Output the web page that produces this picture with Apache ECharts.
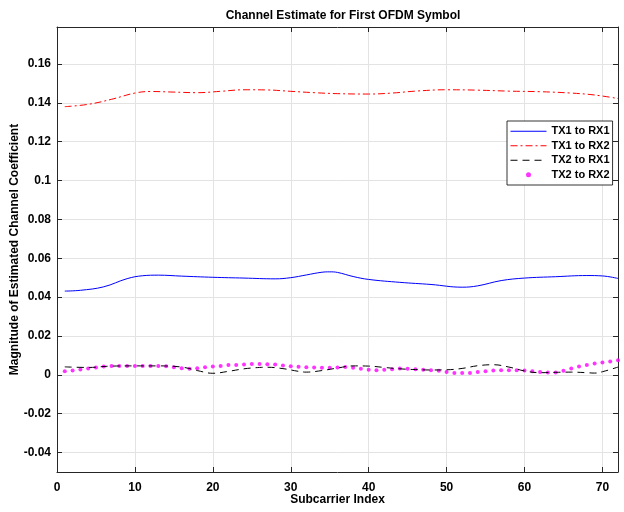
<!DOCTYPE html>
<html>
<head>
<meta charset="utf-8">
<script src="https://cdn.jsdelivr.net/npm/echarts@6/dist/echarts.min.js"></script>
<style>
  html, body { margin: 0; padding: 0; background: #fff; }
  #chart { width: 624px; height: 512px; }
</style>
</head>
<body>
<div id="chart"></div>
<script>
// values
var xTicks = [0, 10, 20, 30, 40, 50, 60, 70]
var yTicks = [-0.04, -0.02, 0, 0.02, 0.04, 0.06, 0.08, 0.1, 0.12, 0.14, 0.16]
var seriesNames = ['TX1 to RX1', 'TX1 to RX2', 'TX2 to RX1', 'TX2 to RX2']

// TX1 to RX1 (blue, solid)
var tx1rx1Idx = [1, 3, 6, 9, 11, 13, 16, 20, 24, 28, 30, 32, 34, 35, 36, 38, 40, 44, 48, 52, 54, 57, 60, 64, 68, 70, 72]
var tx1rx1Val = [0.0431, 0.0435, 0.0453, 0.0495, 0.0510, 0.0513, 0.0508, 0.0502, 0.0498, 0.0494, 0.0500, 0.0514, 0.0528, 0.0530, 0.0527, 0.0506, 0.0491, 0.0476, 0.0465, 0.0451, 0.0458, 0.0485, 0.0498, 0.0505, 0.0511, 0.0509, 0.0496]

// TX1 to RX2 (red, dash-dot)
var tx1rx2Idx = [1, 4, 7, 10, 12, 15, 18, 21, 24, 27, 30, 33, 36, 40, 43, 46, 50, 54, 58, 62, 66, 69, 72]
var tx1rx2Val = [0.1380, 0.1392, 0.1418, 0.1450, 0.1458, 0.1455, 0.1452, 0.1459, 0.1467, 0.1466, 0.1459, 0.1452, 0.1447, 0.1445, 0.1450, 0.1460, 0.1467, 0.1465, 0.1460, 0.1457, 0.1450, 0.1440, 0.1422]

// TX2 to RX1 (black, dashed)
var tx2rx1Idx = [1, 4, 7, 10, 13, 16, 18, 20, 22, 24, 26, 27, 29, 31, 32, 34, 36, 38, 40, 42, 44, 46, 48, 50, 52, 54, 56, 58, 60, 62, 64, 66, 68, 69, 70, 72]
var tx2rx1Val = [0.0041, 0.0038, 0.0045, 0.0046, 0.0046, 0.0040, 0.0022, 0.0008, 0.0018, 0.0031, 0.0038, 0.0039, 0.0032, 0.0018, 0.0014, 0.0022, 0.0035, 0.0046, 0.0045, 0.0038, 0.0031, 0.0027, 0.0025, 0.0026, 0.0033, 0.0047, 0.0052, 0.0040, 0.0020, 0.0011, 0.0013, 0.0014, 0.0011, 0.0009, 0.0016, 0.0040]

// TX2 to RX2 (magenta dots, one per subcarrier 1..72)
var tx2rx2Val = [
  0.0019, 0.0022, 0.0027, 0.0032, 0.0038, 0.0043, 0.0045, 0.0046, 0.0046, 0.0046,
  0.0046, 0.0046, 0.0045, 0.0044, 0.0039, 0.0034, 0.0031, 0.0034, 0.0039, 0.0043,
  0.0046, 0.0050, 0.0051, 0.0053, 0.0056, 0.0056, 0.0055, 0.0053, 0.0048, 0.0044,
  0.0041, 0.0039, 0.0038, 0.0036, 0.0036, 0.0038, 0.0040, 0.0036, 0.0031, 0.0026,
  0.0024, 0.0026, 0.0029, 0.0032, 0.0031, 0.0029, 0.0026, 0.0024, 0.0021, 0.0015,
  0.0010, 0.0009, 0.0010, 0.0015, 0.0019, 0.0022, 0.0024, 0.0024, 0.0024, 0.0022,
  0.0019, 0.0015, 0.0012, 0.0012, 0.0021, 0.0032, 0.0043, 0.0050, 0.0058, 0.0063,
  0.0068, 0.0075
]

function pairs (xs, ys) {
  return xs.map(function (x, i) { return [x, ys[i]] })
}

var font = 'Liberation Sans, Arial, Helvetica, sans-serif'
var axisGray = '#262626'
var gridGray = '#e3e3e3'
var noSymbol = { color: 'transparent', borderWidth: 0 }

function yLabel (v) {
  return String(Number(v.toFixed(2)))
}

var chart = echarts.init(document.getElementById('chart'), null, { renderer: 'canvas' })

var option = {
  animation: false,
  backgroundColor: '#fff',
  title: {
    text: 'Channel Estimate for First OFDM Symbol',
    left: 338,
    top: 5,
    textAlign: 'center',
    textStyle: { fontFamily: font, fontSize: 12, fontWeight: 'bold', color: '#000' }
  },
  grid: { left: 57, right: 6, top: 27, bottom: 40, containLabel: false, outerBoundsMode: 'none' },
  legend: {
    orient: 'vertical',
    left: 507,
    top: 121,
    backgroundColor: '#fff',
    borderColor: '#000',
    borderWidth: 0.8,
    borderRadius: 0,
    padding: [4, 3, 4, 3],
    itemWidth: 36,
    itemHeight: 5,
    itemGap: 2,
    lineStyle: { width: 1 },
    textStyle: { fontFamily: font, fontSize: 11, fontWeight: 'bold', color: '#000', lineHeight: 12.5 },
    data: [
      { name: seriesNames[0], itemStyle: noSymbol },
      { name: seriesNames[1], itemStyle: noSymbol },
      { name: seriesNames[2], itemStyle: noSymbol },
      { name: seriesNames[3] }
    ]
  },
  xAxis: [{
    type: 'value',
    min: 0,
    max: 72,
    name: 'Subcarrier Index',
    nameLocation: 'middle',
    nameGap: 22,
    nameMoveOverlap: false,
    nameTextStyle: { fontFamily: font, fontSize: 12, fontWeight: 'bold', color: '#000' },
    axisLine: { show: true, onZero: false, lineStyle: { color: axisGray, width: 1 } },
    axisTick: { show: true, inside: true, length: 5, customValues: xTicks, lineStyle: { color: axisGray } },
    axisLabel: { customValues: xTicks, margin: 10, fontFamily: font, fontSize: 12, fontWeight: 'bold', color: '#000' },
    splitLine: { show: true, lineStyle: { color: gridGray, width: 1 } }
  }, {
    type: 'value',
    position: 'top',
    min: 0,
    max: 72,
    axisLine: { show: true, onZero: false, lineStyle: { color: axisGray, width: 1 } },
    axisTick: { show: true, inside: true, length: 5, customValues: xTicks, lineStyle: { color: axisGray } },
    axisLabel: { show: false },
    splitLine: { show: false }
  }],
  yAxis: [{
    type: 'value',
    min: -0.05,
    max: 0.179,
    name: 'Magnitude of Estimated Channel Coefficient',
    nameLocation: 'middle',
    nameGap: 36,
    nameMoveOverlap: false,
    nameRotate: 90,
    nameTextStyle: { fontFamily: font, fontSize: 12, fontWeight: 'bold', color: '#000' },
    axisLine: { show: true, onZero: false, lineStyle: { color: axisGray, width: 1 } },
    axisTick: { show: true, inside: true, length: 5, customValues: yTicks, lineStyle: { color: axisGray } },
    axisLabel: { customValues: yTicks, margin: 6, formatter: yLabel, fontFamily: font, fontSize: 12, fontWeight: 'bold', color: '#000' },
    splitLine: { show: true, lineStyle: { color: gridGray, width: 1 } }
  }, {
    type: 'value',
    position: 'right',
    min: -0.05,
    max: 0.179,
    axisLine: { show: true, onZero: false, lineStyle: { color: axisGray, width: 1 } },
    axisTick: { show: true, inside: true, length: 5, customValues: yTicks, lineStyle: { color: axisGray } },
    axisLabel: { show: false },
    splitLine: { show: false }
  }],
  series: [
    {
      name: seriesNames[0],
      type: 'line',
      smooth: 0.4,
      symbol: 'none',
      data: pairs(tx1rx1Idx, tx1rx1Val),
      itemStyle: { color: '#0000ff' },
      lineStyle: { color: '#0000ff', width: 1 }
    },
    {
      name: seriesNames[1],
      type: 'line',
      smooth: 0.4,
      symbol: 'none',
      data: pairs(tx1rx2Idx, tx1rx2Val),
      itemStyle: { color: '#ff0000' },
      lineStyle: { color: '#ff0000', width: 1, type: [7, 3, 2, 3] }
    },
    {
      name: seriesNames[2],
      type: 'line',
      smooth: 0.4,
      symbol: 'none',
      data: pairs(tx2rx1Idx, tx2rx1Val),
      itemStyle: { color: '#000000' },
      lineStyle: { color: '#000000', width: 1, type: [7, 5] }
    },
    {
      name: seriesNames[3],
      type: 'scatter',
      symbol: 'circle',
      symbolSize: 4,
      data: tx2rx2Val.map(function (v, i) { return [i + 1, v] }),
      itemStyle: { color: '#ff00ff' }
    }
  ]
}

chart.setOption(option)
</script>
</body>
</html>
